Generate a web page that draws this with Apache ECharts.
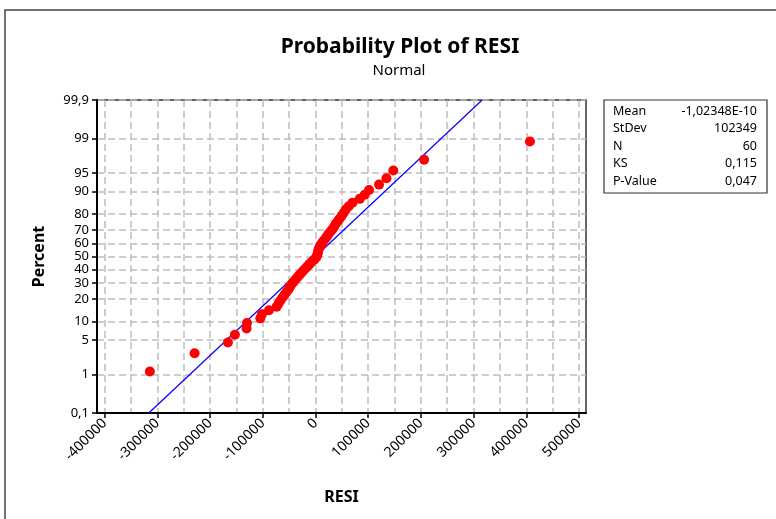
<!DOCTYPE html>
<html>
<head>
<meta charset="utf-8">
<script src="https://cdn.jsdelivr.net/npm/echarts@6/dist/echarts.min.js"></script>
<style>html,body{margin:0;padding:0;background:#fff}#c{width:776px;height:519px}</style>
</head>
<body>
<div id="c"></div>
<script>
// ---- data ----
const titleText = 'Probability Plot of RESI';
const subtitleText = 'Normal';
const xName = 'RESI';
const yName = 'Percent';
const percentTicks = [0.1, 1, 5, 10, 20, 30, 40, 50, 60, 70, 80, 90, 95, 99, 99.9];
const percentLabels = ['0,1', '1', '5', '10', '20', '30', '40', '50', '60', '70', '80', '90', '95', '99', '99,9'];
const xTicks = [-400000, -300000, -200000, -100000, 0, 100000, 200000, 300000, 400000, 500000];
const xGridLines = [-400000, -350000, -300000, -250000, -200000, -150000, -100000, -50000, 0, 50000, 100000, 150000, 200000, 250000, 300000, 350000, 400000, 450000, 500000];
// sorted residuals
const resi = [
  -314300, -229400, -166200, -152900, -130800, -130000, -104700, -101600, -88300, -73700,
  -69900, -66100, -62300, -58500, -54700, -50900, -48100, -45200, -41400, -37600,
  -33800, -30000, -26200, -22400, -18600, -14800, -11000, -7200, -2500, 1300,
  3200, 4200, 5100, 6100, 8000, 9900, 12700, 15600, 19400, 22200,
  25100, 28900, 32700, 35500, 38400, 42200, 46000, 49800, 53600, 57400,
  63100, 70100, 84000, 93500, 101600, 120600, 134700, 147600, 206100, 406900
];
const statNames = ['Mean', 'StDev', 'N', 'KS', 'P-Value'];
const statValues = ['-1,02348E-10', '102349', '60', '0,115', '0,047'];
const fitMean = -1.02348e-10;
const fitSd = 102349;

// inverse standard normal CDF (Acklam)
function normInv(p) {
  const a = [-3.969683028665376e+01, 2.209460984245205e+02, -2.759285104469687e+02, 1.383577518672690e+02, -3.066479806614716e+01, 2.506628277459239e+00];
  const b = [-5.447609879822406e+01, 1.615858368580409e+02, -1.556989798598866e+02, 6.680131188771972e+01, -1.328068155288572e+01];
  const c = [-7.784894002430293e-03, -3.223964580411365e-01, -2.400758277161838e+00, -2.549732539343734e+00, 4.374664141464968e+00, 2.938163982698783e+00];
  const d = [7.784695709041462e-03, 3.224671290700398e-01, 2.445134137142996e+00, 3.754408661907416e+00];
  const pl = 0.02425, ph = 1 - pl;
  let q, r;
  if (p < pl) { q = Math.sqrt(-2 * Math.log(p)); return (((((c[0]*q+c[1])*q+c[2])*q+c[3])*q+c[4])*q+c[5]) / ((((d[0]*q+d[1])*q+d[2])*q+d[3])*q+1); }
  if (p > ph) { q = Math.sqrt(-2 * Math.log(1 - p)); return -(((((c[0]*q+c[1])*q+c[2])*q+c[3])*q+c[4])*q+c[5]) / ((((d[0]*q+d[1])*q+d[2])*q+d[3])*q+1); }
  q = p - 0.5; r = q * q;
  return (((((a[0]*r+a[1])*r+a[2])*r+a[3])*r+a[4])*r+a[5])*q / (((((b[0]*r+b[1])*r+b[2])*r+b[3])*r+b[4])*r+1);
}

const zTicks = percentTicks.map(p => normInv(p / 100));
const zMin = zTicks[0], zMax = zTicks[zTicks.length - 1];
const n = resi.length;
// median-rank plotting positions (i-0.3)/(n+0.4)
const pts = resi.map((v, i) => [v, normInv((i + 1 - 0.3) / (n + 0.4))]);
const fitLine = [[fitMean + fitSd * zMin, zMin], [fitMean + fitSd * zMax, zMax]];

const FONT = 'Noto Sans, Liberation Sans, sans-serif';
const chart = echarts.init(document.getElementById('c'), null, { renderer: 'canvas' });

const statGraphics = [];
statNames.forEach((nm, i) => {
  statGraphics.push({ type: 'text', left: 613, top: 105 + i * 17.4, style: { text: nm, font: '12.5px ' + FONT, fill: '#000' } });
  statGraphics.push({ type: 'text', right: 776 - 757, top: 105 + i * 17.4, style: { text: statValues[i], font: '12.5px ' + FONT, fill: '#000', align: 'right' } });
});

chart.setOption({
  animation: false,
  backgroundColor: '#fff',
  title: [
    { text: titleText, left: 395, top: 32, textAlign: 'center', textStyle: { fontFamily: FONT, fontSize: 21, fontWeight: 'bold', color: '#000' } },
    { text: subtitleText, left: 394, top: 58, textAlign: 'center', textStyle: { fontFamily: FONT, fontSize: 15, fontWeight: 'normal', color: '#000' } }
  ],
  grid: { left: 97, right: 190, top: 100, bottom: 106, show: true, borderColor: '#333', borderWidth: 1.5, backgroundColor: '#fff' },
  xAxis: [
    {
      type: 'value', min: -414600, max: 513300, position: 'bottom',
      name: xName, nameLocation: 'middle', nameGap: 76,
      nameTextStyle: { fontFamily: FONT, fontSize: 16, fontWeight: 'bold', color: '#000' },
      axisLine: { show: true, onZero: false, lineStyle: { color: '#000', width: 2 } },
      axisTick: { show: true, length: 5, customValues: xTicks, lineStyle: { color: '#000', width: 1.5 } },
      axisLabel: { customValues: xTicks, rotate: 45, margin: 8, fontFamily: FONT, fontSize: 14, color: '#000', formatter: v => String(v) },
      splitLine: { show: false }
    },
    {
      type: 'value', min: -414600, max: 513300, position: 'bottom',
      axisLine: { show: false },
      axisTick: { show: false, customValues: xGridLines },
      axisLabel: { show: false, customValues: xGridLines },
      splitLine: { show: true, lineStyle: { color: '#bdbdbd', type: [7, 4], width: 1.5 } }
    }
  ],
  yAxis: {
    type: 'value', min: zMin, max: zMax,
    name: yName, nameLocation: 'middle', nameGap: 50, nameRotate: 90,
    nameTextStyle: { fontFamily: FONT, fontSize: 16, fontWeight: 'bold', color: '#000' },
    axisLine: { show: true, onZero: false, lineStyle: { color: '#000', width: 2 } },
    axisTick: { show: true, length: 5, customValues: zTicks, lineStyle: { color: '#000', width: 1.5 } },
    axisLabel: {
      customValues: zTicks, margin: 8, fontFamily: FONT, fontSize: 13, color: '#000',
      formatter: v => { let best = 0, bd = 1e9; zTicks.forEach((z, i) => { const d = Math.abs(z - v); if (d < bd) { bd = d; best = i; } }); return percentLabels[best]; }
    },
    splitLine: { show: true, lineStyle: { color: '#bdbdbd', type: [7, 4], width: 1.5 } }
  },
  series: [
    {
      type: 'line', data: fitLine, xAxisIndex: 0, showSymbol: false, symbol: 'none',
      lineStyle: { color: '#0000ff', width: 1.2 }, clip: true, z: 3
    },
    {
      type: 'scatter', data: pts, xAxisIndex: 0, symbol: 'circle', symbolSize: 10,
      itemStyle: { color: '#ff0000', opacity: 1 }, z: 4
    }
  ],
  graphic: [
    { type: 'polyline', shape: { points: [[5, 530], [5, 10], [790, 10]] }, style: { stroke: '#444', lineWidth: 1.5, fill: null }, silent: true },
    { type: 'rect', shape: { x: 604, y: 100, width: 163, height: 93 }, style: { stroke: '#333', lineWidth: 1.2, fill: '#fff' } }
  ].concat(statGraphics)
});
</script>
</body>
</html>
